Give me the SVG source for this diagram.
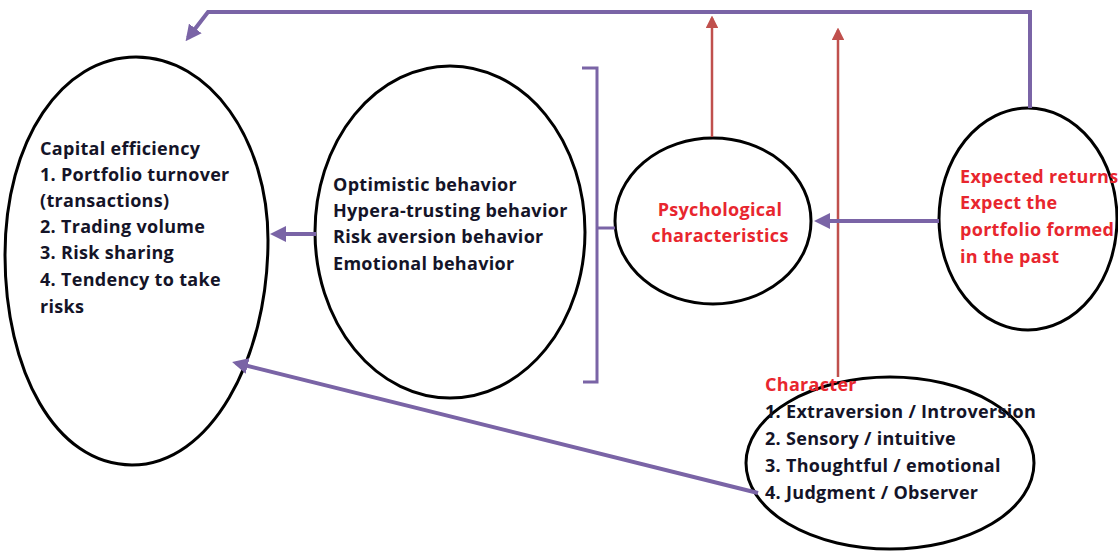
<svg xmlns="http://www.w3.org/2000/svg" width="1118" height="552" viewBox="0 0 1118 552">
  <style>
    .node { fill: #ffffff; stroke: #000000; stroke-width: 3; }
    .t { font-family: "Open Sans", "Liberation Sans", sans-serif; font-weight: bold; font-size: 18px; letter-spacing: 0.3px; fill: #141428; }
    .r { fill: #e8262e; }
    .p { fill: none; stroke: #7a64a6; stroke-width: 4; }
    .pt { fill: none; stroke: #7a64a6; stroke-width: 3; }
    .red { fill: none; stroke: #c0504d; stroke-width: 2.5; }
  </style>
  <defs>
    <marker id="ap" markerWidth="4" markerHeight="4" refX="3" refY="2" orient="auto" markerUnits="strokeWidth">
      <path d="M0,0 L4,2 L0,4 Z" fill="#7a64a6"/>
    </marker>
    <marker id="ar" markerWidth="5" markerHeight="5" refX="4" refY="2.5" orient="auto" markerUnits="strokeWidth">
      <path d="M0,0 L5,2.5 L0,5 Z" fill="#c0504d"/>
    </marker>
  </defs>
  <rect width="1118" height="552" fill="#ffffff"/>

  <g id="capital">
    <path class="node" d="M136,57 C210,57 268,140 268,240 C268,360 210,465 132,465 C55,465 5,370 5,255 C5,140 62,57 136,57 Z"/>
    <text class="t" x="40" y="155">Capital efficiency</text>
    <text class="t" x="40" y="181">1. Portfolio turnover</text>
    <text class="t" x="40" y="207">(transactions)</text>
    <text class="t" x="40" y="233">2. Trading volume</text>
    <text class="t" x="40" y="259">3. Risk sharing</text>
    <text class="t" x="40" y="286">4. Tendency to take</text>
    <text class="t" x="40" y="313">risks</text>
  </g>

  <g id="behaviors">
    <ellipse class="node" cx="450" cy="232" rx="135" ry="166"/>
    <text class="t" x="333" y="191">Optimistic behavior</text>
    <text class="t" x="333" y="217">Hypera-trusting behavior</text>
    <text class="t" x="333" y="243">Risk aversion behavior</text>
    <text class="t" x="333" y="270">Emotional behavior</text>
  </g>

  <g id="psychological">
    <ellipse class="node" cx="713" cy="221" rx="98" ry="83"/>
    <text class="t r" x="720" y="216" text-anchor="middle">Psychological</text>
    <text class="t r" x="720" y="242" text-anchor="middle">characteristics</text>
  </g>

  <g id="expected">
    <ellipse class="node" cx="1028" cy="219" rx="89" ry="111"/>
    <text class="t r" x="960" y="183">Expected returns</text>
    <text class="t r" x="960" y="209">Expect the</text>
    <text class="t r" x="960" y="236">portfolio formed</text>
    <text class="t r" x="960" y="263">in the past</text>
  </g>

  <g id="character">
    <ellipse class="node" cx="890" cy="463" rx="144" ry="86"/>
    <text class="t r" x="765" y="391">Character</text>
    <text class="t" x="765" y="418">1. Extraversion / Introversion</text>
    <text class="t" x="765" y="445">2. Sensory / intuitive</text>
    <text class="t" x="765" y="472">3. Thoughtful / emotional</text>
    <text class="t" x="765" y="499">4. Judgment / Observer</text>
  </g>

  <g id="connectors">
    <!-- feedback loop across the top -->
    <path class="p" d="M1030,108 L1030,12 L208,12 L188,38" marker-end="url(#ap)"/>
    <!-- red arrows up to the loop -->
    <line class="red" x1="712" y1="137" x2="712" y2="18" marker-end="url(#ar)"/>
    <line class="red" x1="838" y1="377" x2="838" y2="30" marker-end="url(#ar)"/>
    <!-- bracket -->
    <path class="pt" d="M582,68 L597,68 L597,382 L583,382"/>
    <line class="pt" x1="597" y1="228" x2="615" y2="228"/>
    <!-- expected returns to psychological -->
    <line class="p" x1="939" y1="221" x2="818" y2="221" marker-end="url(#ap)"/>
    <!-- behaviors to capital efficiency -->
    <line class="p" x1="316" y1="234" x2="274" y2="234" marker-end="url(#ap)"/>
    <!-- character to capital efficiency -->
    <line class="p" x1="758" y1="493" x2="236" y2="363" marker-end="url(#ap)"/>
  </g>
</svg>
